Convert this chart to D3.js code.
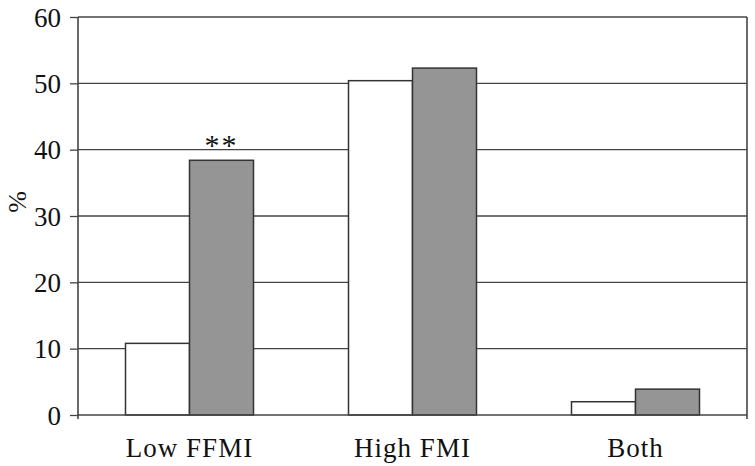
<!DOCTYPE html>
<html>
<head>
<meta charset="utf-8">
<script src="https://cdn.jsdelivr.net/npm/d3@7"></script>
<style>
  body { margin: 0; background: #fff; }
  svg { display: block; }
  text { font-family: "Liberation Serif", "DejaVu Serif", serif; fill: #111; }
</style>
</head>
<body>
<svg width="755" height="466"></svg>
<script>
// data
var categories = ["Low FFMI", "High FMI", "Both"];
var seriesA = [10.8, 50.4, 2.0];   // white bars
var seriesB = [38.4, 52.3, 3.9];   // gray bars
var yTicks = [0, 10, 20, 30, 40, 50, 60];
var notes = ["**", "", ""];

var svg = d3.select("svg");
// note: "top" clashes with window.top, so plot edges get their own names
var plotLeft = 78, plotRight = 747, plotTop = 17, plotBottom = 415;

var x = d3.scaleBand().domain(categories).range([plotLeft, plotRight]);
var y = d3.scaleLinear().domain([0, 60]).range([plotBottom, plotTop]);
var barW = 64;

// gridlines
svg.append("g").selectAll("line").data(yTicks.filter(function(d) { return d > 0; }))
  .enter().append("line")
  .attr("x1", plotLeft).attr("x2", plotRight)
  .attr("y1", function(d) { return y(d); }).attr("y2", function(d) { return y(d); })
  .attr("stroke", "#444").attr("stroke-width", 1.3);

// right frame
svg.append("line").attr("x1", plotRight).attr("x2", plotRight).attr("y1", plotTop).attr("y2", plotBottom + 4)
  .attr("stroke", "#444").attr("stroke-width", 1.6);

// bars
var bars = svg.append("g");
categories.forEach(function(c, i) {
  var cx = x(c) + x.bandwidth() / 2;
  bars.append("rect")
    .attr("x", cx - barW).attr("y", y(seriesA[i]))
    .attr("width", barW).attr("height", y(0) - y(seriesA[i]))
    .attr("fill", "#fff").attr("stroke", "#333").attr("stroke-width", 1.5);
  bars.append("rect")
    .attr("x", cx).attr("y", y(seriesB[i]))
    .attr("width", barW).attr("height", y(0) - y(seriesB[i]))
    .attr("fill", "#959595").attr("stroke", "#333").attr("stroke-width", 1.5);
  if (notes[i]) {
    bars.append("text").attr("x", cx + barW / 2).attr("y", y(seriesB[i]) - 5)
      .attr("text-anchor", "middle").attr("font-size", 30)
      .attr("letter-spacing", 2).text(notes[i]);
  }
});

// y axis
var yAxis = d3.axisLeft(y).tickValues(yTicks).tickSize(8).tickPadding(9);
var gy = svg.append("g").attr("transform", "translate(" + plotLeft + ",0)").call(yAxis);
gy.select(".domain").attr("stroke", "#444").attr("stroke-width", 1.6)
  .attr("d", "M0," + plotTop + "V" + (plotBottom + 4));
gy.selectAll(".tick line").attr("stroke", "#444").attr("stroke-width", 1.3);
gy.selectAll(".tick text").attr("font-size", 27).attr("font-family", "Liberation Serif, serif")
  .attr("fill", "#111").attr("dy", "0.34em");

// x axis baseline
svg.append("line").attr("x1", plotLeft).attr("x2", plotRight).attr("y1", plotBottom).attr("y2", plotBottom)
  .attr("stroke", "#444").attr("stroke-width", 1.6);

// category labels
svg.append("g").selectAll("text").data(categories).enter().append("text")
  .attr("x", function(d) { return x(d) + x.bandwidth() / 2; })
  .attr("y", 457)
  .attr("text-anchor", "middle").attr("font-size", 27).attr("letter-spacing", 1)
  .text(function(d) { return d; });

// y label
svg.append("text").attr("transform", "translate(26,202) rotate(-90)")
  .attr("text-anchor", "middle").attr("font-size", 26).text("%");
</script>
</body>
</html>
